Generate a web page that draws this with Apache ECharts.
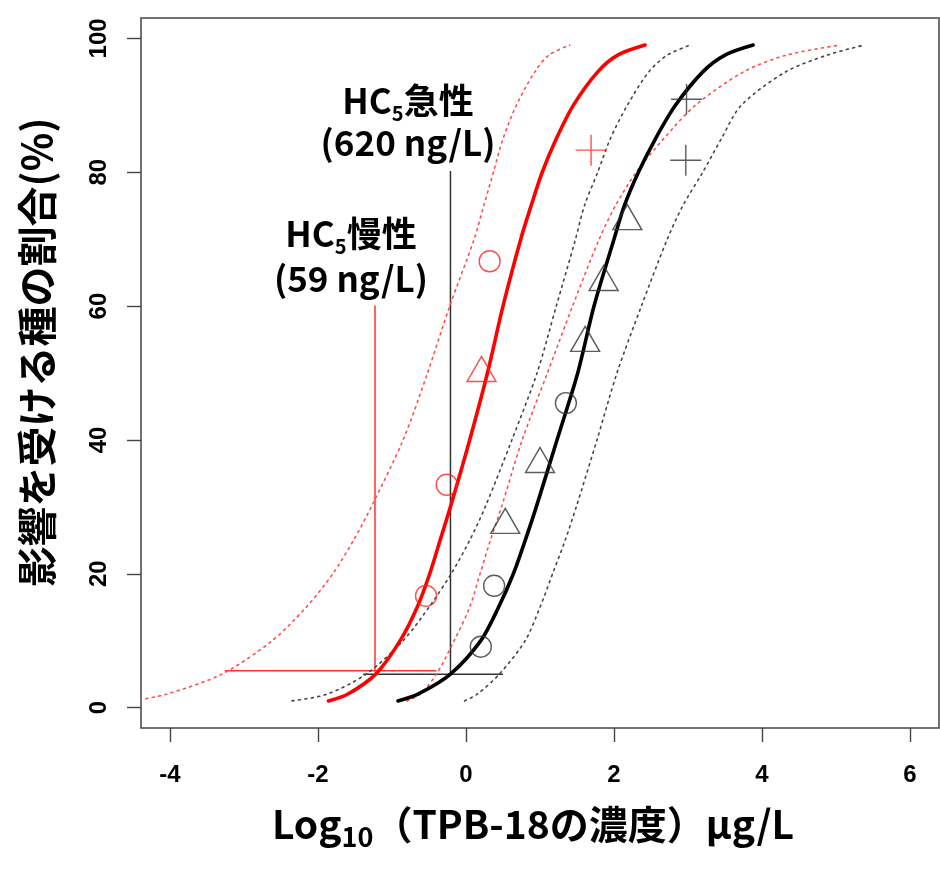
<!DOCTYPE html>
<html><head><meta charset="utf-8">
<script src="https://cdn.jsdelivr.net/npm/echarts@6/dist/echarts.min.js"></script>
<style>html,body{margin:0;padding:0;background:#fff}#c{width:940px;height:876px}</style>
</head><body><div id="c"></div>
<script>
// ---- data ----
const pctLevels   = [1, 2, 5, 10, 15, 20, 25, 30, 40, 50, 60, 70, 75, 80, 85, 90, 95, 97.5, 99];
// chronic (red) fitted SSD and its confidence bounds, log10 conc at each level
const chronicFit   = [-1.86, -1.6, -1.22, -0.89, -0.66, -0.49, -0.35, -0.21, 0.05, 0.29, 0.5, 0.74, 0.88, 1.03, 1.22, 1.45, 1.78, 2.05, 2.42];
const chronicLower = [-4.5, -4.05, -3.3, -2.62, -2.16, -1.8, -1.52, -1.28, -0.85, -0.52, -0.22, 0.11, 0.24, 0.37, 0.5, 0.68, 0.93, 1.12, 1.4];
const chronicUpper = [-0.8, -0.62, -0.4, -0.16, 0.05, 0.19, 0.33, 0.48, 0.76, 1.1, 1.44, 1.8, 2.02, 2.3, 2.67, 3.1, 3.75, 4.33, 5.05];
// acute (black) fitted SSD and its confidence bounds
const acuteFit   = [-0.92, -0.65, -0.21, 0.2, 0.44, 0.64, 0.8, 0.95, 1.23, 1.51, 1.73, 2.0, 2.14, 2.33, 2.56, 2.83, 3.2, 3.5, 3.88];
const acuteLower = [-2.35, -1.88, -1.35, -0.85, -0.5, -0.2, 0.05, 0.26, 0.62, 0.96, 1.22, 1.48, 1.6, 1.78, 1.95, 2.18, 2.47, 2.72, 3.03];
const acuteUpper = [-0.02, 0.15, 0.45, 0.8, 1.0, 1.17, 1.34, 1.49, 1.77, 2.04, 2.37, 2.72, 2.93, 3.2, 3.45, 3.72, 4.32, 4.88, 5.38];
// species points (x = log10 conc, y = % affected)
const chronicCircleX = [-0.54, -0.26, 0.32],  chronicCircleY = [16.7, 33.3, 66.7];
const chronicTriX = [0.21],                    chronicTriY = [50];
const chronicPlusX = [1.69],                   chronicPlusY = [83.3];
const acuteCircleX = [0.2, 0.38, 1.35],        acuteCircleY = [9.1, 18.2, 45.5];
const acuteTriX = [0.53, 1.0, 1.61, 1.86, 2.18], acuteTriY = [27.3, 36.4, 54.5, 63.6, 72.7];
const acutePlusX = [2.97, 2.98],               acutePlusY = [81.8, 90.9];
// HC5 guide lines
const chronicGuideH = [[-3.26, 5.5], [-0.4, 5.5]];
const chronicGuideV = [[-1.23, 5.5], [-1.23, 60.1]];
const acuteGuideH   = [[-1.39, 5], [0.5, 5]];
const acuteGuideV   = [[-0.21, 5], [-0.21, 80.2]];
// ticks
const xTicks = [-4, -2, 0, 2, 4, 6];
const yTicks = [0, 20, 40, 60, 80, 100];

// ---- helpers ----
const curve = xs => xs.map((x, i) => [x, pctLevels[i]]);
const pts = (xs, ys) => xs.map((x, i) => [x, ys[i]]);
const RED = '#ff0000', BLK = '#000000';
const JP = '"Noto Sans CJK JP", "Noto Sans", sans-serif';

function lineSeries(data, color, width, type, z) {
  return { type: 'line', data, showSymbol: false, symbol: 'none', smooth: 0.3,
    clip: true, z: z || 2, silent: true, animation: false,
    lineStyle: { color, width, type: type || 'solid', cap: 'round', join: 'round' } };
}
function guide(data, color) {
  return { type: 'line', data, showSymbol: false, symbol: 'none', silent: true, animation: false, z: 1,
    lineStyle: { color, width: 1.5 } };
}
function scatter(data, color, symbol, size, offset) {
  return { type: 'scatter', data, symbol, symbolSize: size, symbolOffset: offset || [0, 0], silent: true,
    animation: false, z: 5,
    itemStyle: { color: 'rgba(0,0,0,0)', borderColor: color, borderWidth: 1.4 } };
}
const PLUS = 'path://M16,0 L16,32 M0,16 L32,16';

const chart = echarts.init(document.getElementById('c'), null, { renderer: 'canvas' });
const labelStyle = (fs) => ({ fontFamily: '"Liberation Sans", Arial, sans-serif', fontWeight: 'bold', fontSize: fs, color: '#000' });
const rich35 = {
  m: { fontSize: 35, fontWeight: 'bold', fontFamily: JP, fill: '#000', lineHeight: 44 },
  s: { fontSize: 20, fontWeight: 'bold', fontFamily: JP, fill: '#000', lineHeight: 20, verticalAlign: 'bottom' }
};
chart.setOption({
  backgroundColor: '#fff',
  animation: false,
  grid: { left: 141, right: 1, top: 18, bottom: 148, show: true, borderColor: '#444', borderWidth: 1.5, backgroundColor: '#fff' },
  xAxis: {
    type: 'value', min: -4.392, max: 6.392, position: 'bottom',
    axisLine: { show: false, onZero: false },
    splitLine: { show: false },
    axisTick: { show: true, length: 14, inside: false, customValues: xTicks, lineStyle: { color: '#444', width: 1.4 } },
    axisLabel: { show: true, customValues: xTicks, margin: 35, ...labelStyle(24) }
  },
  yAxis: {
    type: 'value', min: -3.05, max: 103.05, position: 'left',
    axisLine: { show: false, onZero: false },
    splitLine: { show: false },
    axisTick: { show: true, length: 14, inside: false, customValues: yTicks, lineStyle: { color: '#444', width: 1.4 } },
    axisLabel: { show: true, customValues: yTicks, margin: 30, rotate: 90, ...labelStyle(24) }
  },
  series: [
    guide(chronicGuideH, '#ff3030'),
    guide(chronicGuideV, '#ff3030'),
    guide(acuteGuideH, '#333'),
    guide(acuteGuideV, '#333'),
    lineSeries(curve(chronicLower), '#ff4d4d', 1.6, [2, 4.5]),
    lineSeries(curve(chronicUpper), '#ff4d4d', 1.6, [2, 4.5]),
    lineSeries(curve(acuteLower), '#444', 1.6, [2, 4.5]),
    lineSeries(curve(acuteUpper), '#444', 1.6, [2, 4.5]),
    lineSeries(curve(chronicFit), RED, 3.6, 'solid', 3),
    lineSeries(curve(acuteFit), BLK, 3.6, 'solid', 3),
    scatter(pts(chronicCircleX, chronicCircleY), '#ff2020', 'circle', 21),
    scatter(pts(chronicTriX, chronicTriY), '#ff2020', 'triangle', [29, 25], [0, -4]),
    scatter(pts(chronicPlusX, chronicPlusY), '#ff2020', PLUS, 31),
    scatter(pts(acuteCircleX, acuteCircleY), '#333', 'circle', 21),
    scatter(pts(acuteTriX, acuteTriY), '#333', 'triangle', [29, 25], [0, -4]),
    scatter(pts(acutePlusX, acutePlusY), '#333', PLUS, 31)
  ],
  graphic: [
    { type: 'text', x: 408, y: 101, z: 10, style: { text: '{m|HC}{s|5}{m|急性}', rich: rich35, align: 'center', verticalAlign: 'middle' } },
    { type: 'text', x: 408, y: 143, z: 10, style: { text: '(620 ng/L)', font: 'bold 35px ' + JP, fill: '#000', align: 'center', verticalAlign: 'middle' } },
    { type: 'text', x: 351, y: 234, z: 10, style: { text: '{m|HC}{s|5}{m|慢性}', rich: rich35, align: 'center', verticalAlign: 'middle' } },
    { type: 'text', x: 351, y: 279, z: 10, style: { text: '(59 ng/L)', font: 'bold 35px ' + JP, fill: '#000', align: 'center', verticalAlign: 'middle' } },
    { type: 'text', x: 533, y: 824, z: 10, style: {
        text: '{m|Log}{s|10}{m|（TPB-18の濃度）μg/L}', align: 'center', verticalAlign: 'middle',
        rich: {
          m: { fontSize: 39, fontWeight: 'bold', fontFamily: JP, fill: '#000', lineHeight: 52 },
          s: { fontSize: 27, fontWeight: 'bold', fontFamily: JP, fill: '#000', lineHeight: 26, verticalAlign: 'bottom' }
        } } },
    { type: 'text', x: 37, y: 352, rotation: Math.PI / 2, z: 10, style: {
        text: '影響を受ける種の割合(%)', font: 'bold 40px ' + JP, fill: '#000', align: 'center', verticalAlign: 'middle' } }
  ]
});
</script>
</body></html>
